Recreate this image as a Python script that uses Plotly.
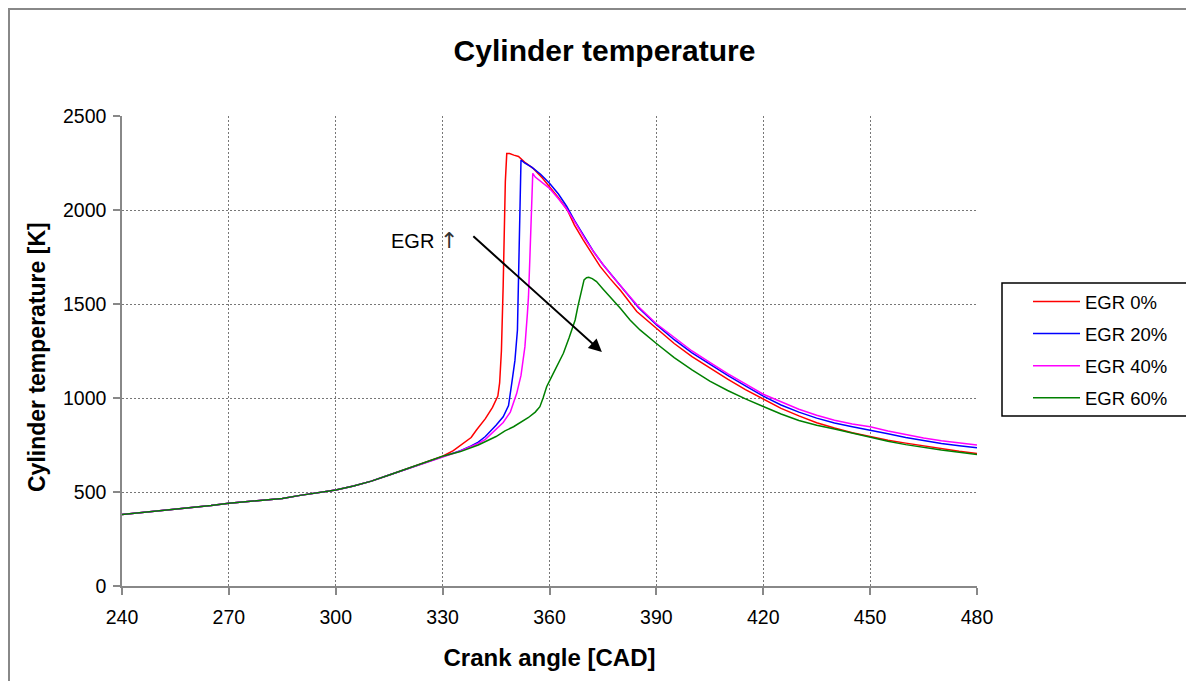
import plotly.graph_objects as go

# ---------------- data ----------------
series_names = ["EGR 0%", "EGR 20%", "EGR 40%", "EGR 60%"]
series_colors = ["#FF0000", "#0000FF", "#FF00FF", "#008000"]

# common compression part (crank angle, K)
comp_cad = [240, 245, 250, 255, 260, 265, 270, 275, 280, 285, 290, 295, 300, 305, 310, 315, 320, 325, 330]
comp_temp = [380, 389, 398, 408, 418, 428, 440, 450, 458, 466, 482, 497, 511, 532, 558, 590, 622, 655, 690]

egr0_cad = [333, 336, 338, 339.5, 342, 344, 345.5, 346, 346.5, 347, 347.3, 347.6, 348, 348.8, 350, 351.3, 353,
            355.5, 358, 360, 362.5, 365, 367, 369.5, 372, 374.2, 377, 380, 384.5, 390, 395, 400, 405, 410, 415,
            420, 425, 430, 435, 440, 445, 450, 455, 460, 465, 470, 475, 480]
egr0_temp = [720, 760, 790, 830, 890, 950, 1010, 1080, 1250, 1600, 1900, 2150, 2300, 2300, 2292, 2285, 2255,
             2220, 2170, 2125, 2065, 2000, 1920, 1840, 1765, 1700, 1635, 1570, 1460, 1370, 1290, 1220, 1160, 1100,
             1045, 995, 945, 905, 868, 840, 815, 795, 775, 760, 745, 730, 717, 705]

egr20_cad = [335, 338, 340, 342, 343.8, 345, 347, 348.5, 349.4, 350.3, 351, 351.3, 351.5, 351.8, 352, 353, 355,
             357.5, 360, 362.5, 364.8, 367, 370, 372.5, 375, 378, 381, 385, 390, 395, 400, 405, 410, 415, 420,
             425, 430, 435, 440, 445, 450, 455, 460, 465, 470, 475, 480]
egr20_temp = [720, 745, 765, 795, 830, 855, 900, 960, 1078, 1200, 1362, 1600, 1894, 2150, 2266, 2250, 2228, 2190,
              2142, 2085, 2020, 1945, 1850, 1775, 1710, 1640, 1575, 1480, 1390, 1310, 1240, 1180, 1120, 1065, 1010,
              963, 925, 893, 867, 847, 830, 810, 790, 773, 758, 746, 736]

egr40_cad = [335, 338, 340, 342, 344.7, 347, 349, 350.8, 352, 353.1, 353.8, 354.1, 354.5, 354.8, 355.1, 355.3,
             356, 356.5, 357.5, 360, 362.5, 365, 367.5, 370, 372.5, 375, 378, 381, 385, 390, 395, 400, 405, 410,
             415, 420, 425, 430, 435, 440, 445, 450, 455, 460, 465, 470, 475, 480]
egr40_temp = [718, 742, 758, 780, 830, 870, 925, 1025, 1120, 1273, 1450, 1539, 1750, 1950, 2150, 2195, 2175,
              2168, 2150, 2115, 2060, 2000, 1925, 1845, 1775, 1710, 1640, 1575, 1485, 1395, 1320, 1250, 1190, 1130,
              1075, 1020, 980, 940, 908, 882, 862, 847, 825, 805, 787, 772, 760, 750]

egr60_cad = [335, 338, 340, 345, 347.5, 349.9, 352, 354, 356, 357.3, 358.2, 359.2, 360.5, 362, 363.9, 365.5,
             367.2, 368, 368.6, 369.2, 369.7, 370.4, 371, 372, 373.2, 375, 377.9, 380, 382.6, 385.4, 390, 395,
             400, 405, 410, 415, 420, 425, 430, 435, 440, 445, 450, 455, 460, 465, 470, 475, 480]
egr60_temp = [715, 735, 750, 795, 825, 847, 870, 895, 925, 954, 1000, 1060, 1110, 1170, 1238, 1320, 1415, 1490,
              1539, 1600, 1628, 1640, 1642, 1635, 1619, 1580, 1521, 1475, 1415, 1362, 1290, 1215, 1150, 1090,
              1040, 995, 955, 915, 880, 855, 835, 812, 791, 770, 752, 737, 723, 712, 700]

series_cad = [egr0_cad, egr20_cad, egr40_cad, egr60_cad]
series_temp = [egr0_temp, egr20_temp, egr40_temp, egr60_temp]

x_ticks = [240, 270, 300, 330, 360, 390, 420, 450, 480]
y_ticks = [0, 500, 1000, 1500, 2000, 2500]

# annotation arrow (tail -> head) in data units
arrow_tail = (338.2, 1867)
arrow_head = (374.7, 1245)
label_pos = (324.8, 1840)

FONT = "Liberation Sans, Arial, sans-serif"

# page body has an 8px margin; the plot area sits at 122..977 x 116..586 on screen
FIG_W, FIG_H, BODY = 1186, 673, 8
PX_L, PX_T, PW, PH = 122, 116, 855, 470


def px(x):
    return (x - PX_L) / PW


def py(y):
    return (PX_T + PH - y) / PH


fig = go.Figure()
for name, color, cad, temp in zip(series_names, series_colors, series_cad, series_temp):
    xs = [c for c in comp_cad if c < cad[0]] + cad
    ys = [t for c, t in zip(comp_cad, comp_temp) if c < cad[0]] + temp
    fig.add_trace(go.Scatter(x=xs, y=ys, mode="lines", name=name, legendgroup=name,
                             line=dict(color=color, width=1.5)))

fig.add_annotation(x=arrow_head[0], y=arrow_head[1], ax=arrow_tail[0], ay=arrow_tail[1],
                   xref="x", yref="y", axref="x", ayref="y", text="", showarrow=True,
                   arrowhead=2, arrowsize=1.3, arrowwidth=2, arrowcolor="black")
fig.add_annotation(x=label_pos[0], y=label_pos[1], xref="x", yref="y",
                   text="EGR <span style='font-family:DejaVu Sans;font-size:22px;color:#333'>↑</span>",
                   showarrow=False, font=dict(family=FONT, size=20, color="black"))

# y-axis title (placed as rotated annotation to match the reference position)
fig.add_annotation(x=px(37), y=py(357), xref="paper", yref="paper", text="<b>Cylinder temperature [K]</b>",
                   textangle=-90, showarrow=False, xanchor="center", yanchor="middle",
                   font=dict(family=FONT, size=23, color="black"))

# outer chart frame
fig.add_shape(type="rect", xref="paper", yref="paper",
              x0=px(9), x1=px(1215), y0=py(700), y1=py(9),
              line=dict(color="#888888", width=2), fillcolor="rgba(0,0,0,0)", layer="below")
# legend frame
fig.add_shape(type="rect", xref="paper", yref="paper",
              x0=px(1002), x1=px(1187), y0=py(416), y1=py(283),
              line=dict(color="black", width=1.5), fillcolor="rgba(0,0,0,0)", layer="above")

axis_common = dict(showline=True, linecolor="#888888", linewidth=1.5, ticks="outside", ticklen=7,
                   tickcolor="#888888", tickwidth=1.5, showgrid=True, gridcolor="#777777", gridwidth=1,
                   griddash="2px,2px", zeroline=False, tickfont=dict(family=FONT, size=19.5, color="black"))

fig.update_layout(
    width=FIG_W, height=FIG_H,
    margin=dict(l=PX_L - BODY, r=FIG_W - (PX_L - BODY) - PW, t=PX_T - BODY, b=FIG_H - (PX_T - BODY) - PH),
    paper_bgcolor="white", plot_bgcolor="white",
    font=dict(family=FONT, color="black"),
    title=dict(text="<b>Cylinder temperature</b>", xref="container", x=(604.5 - BODY) / FIG_W,
               xanchor="center", yref="container", y=1 - (50 - BODY) / FIG_H, yanchor="middle",
               font=dict(family=FONT, size=30, color="black")),
    xaxis=dict(range=[240, 480], tickvals=x_ticks, ticklabelstandoff=6,
               title=dict(text="<b>Crank angle [CAD]</b>", standoff=22,
                          font=dict(family=FONT, size=24, color="black")),
               **axis_common),
    yaxis=dict(range=[0, 2500], tickvals=y_ticks, ticklabelstandoff=3, **axis_common),
    legend=dict(x=px(1028), y=py(283), xanchor="left", yanchor="top",
                borderwidth=0, bgcolor="rgba(0,0,0,0)", tracegroupgap=5,
                font=dict(family=FONT, size=18.5, color="black"), itemwidth=47),
    showlegend=True,
)

fig.write_html("out.html")
